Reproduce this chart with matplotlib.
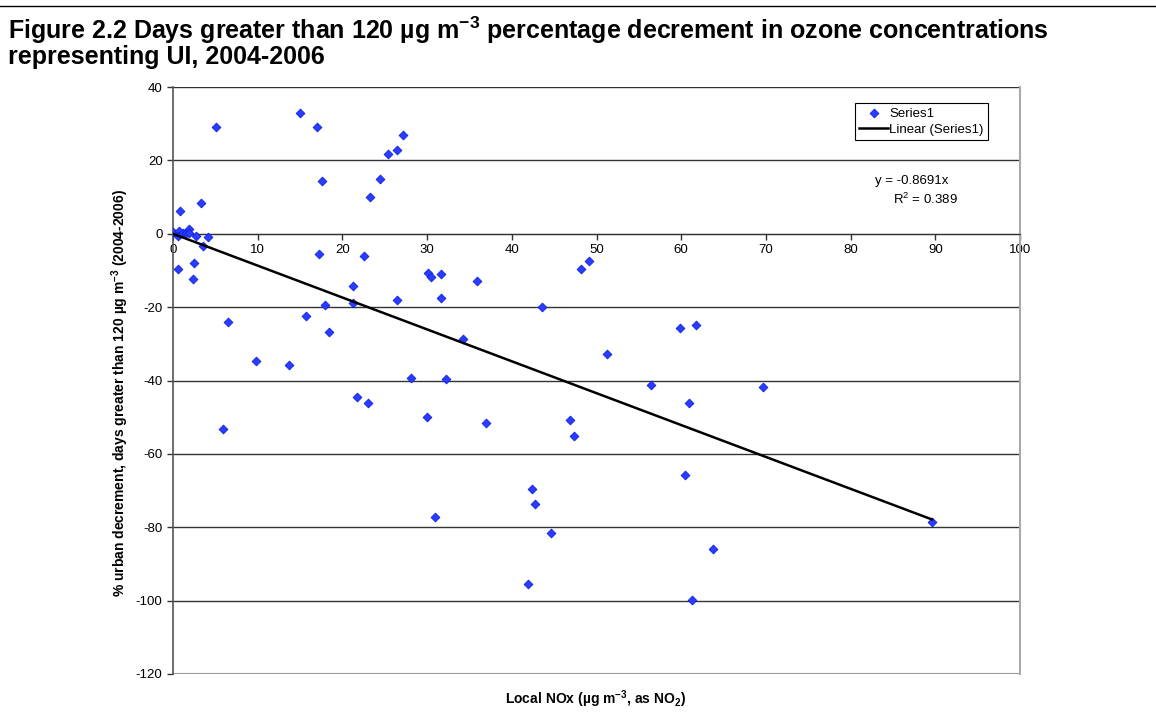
import matplotlib.pyplot as plt
from matplotlib.lines import Line2D
import numpy as np

plt.rcParams.update({
    "font.family": ["Liberation Sans", "DejaVu Sans"],
    "mathtext.default": "regular",
    "axes.unicode_minus": False,
})

# Local NOx (x) and % urban decrement (y)
nox = [5.1, 15.0, 17.0, 17.6, 27.2, 26.5, 25.4, 24.4, 23.2, 3.35, 0.86,
       0.05, 0.7, 0.6, 1.2, 1.5, 1.85, 1.9, 2.7, 4.1, 3.5,
       0.6, 2.5, 2.4, 6.5, 9.8, 13.7, 15.7, 18.0, 18.4, 17.2, 21.2, 21.3,
       22.6, 26.4, 21.7, 28.1, 5.85, 23.0,
       30.1, 30.5, 31.6, 31.6, 35.9, 48.2, 49.1, 43.6, 34.2, 51.2, 32.2,
       30.0, 36.9, 46.9, 47.3, 42.4, 42.7, 30.9, 44.6, 41.9,
       59.8, 61.8, 56.4, 69.6, 60.9, 60.4, 89.6, 63.8, 61.3]
decrement = [29.1, 33.0, 29.0, 14.3, 26.9, 22.9, 21.8, 14.9, 9.9, 8.4, 6.3,
             0.6, 0.8, -0.7, 0.1, 0.3, 1.4, 0.2, -0.5, -0.8, -3.3,
             -9.5, -8.1, -12.3, -24.1, -34.7, -35.8, -22.3, -19.5, -26.9, -5.5, -14.3, -18.9,
             -6.1, -18.0, -44.5, -39.3, -53.2, -46.2,
             -10.7, -11.9, -11.1, -17.6, -12.9, -9.7, -7.3, -20.1, -28.6, -32.8, -39.5,
             -50.0, -51.5, -50.7, -55.2, -69.6, -73.6, -77.2, -81.5, -95.5,
             -25.7, -24.9, -41.3, -41.7, -46.2, -65.8, -78.6, -86.0, -99.7]
slope = -0.8691
r2 = 0.389

fig = plt.figure(figsize=(11.56, 7.19), dpi=100)
ax = fig.add_axes([173 / 1156, 1 - 674 / 719, 847 / 1156, 587 / 719])

ax.set_xlim(0, 100)
ax.set_ylim(-120, 40)
ax.set_xticks(np.arange(0, 101, 10))
ax.set_yticks(np.arange(-120, 41, 20))

for yv in range(-100, 41, 20):
    ax.axhline(yv, color="#333333", lw=1.0, zorder=1)
ax.axhline(-120, color="#999999", lw=1.5, zorder=1)

ax.spines["bottom"].set_position(("data", 0))
ax.spines["bottom"].set_color("#333333")
ax.spines["left"].set_color("#555555")
ax.spines["left"].set_linewidth(1.2)
ax.spines["top"].set_visible(False)
ax.spines["right"].set_color("#aaaaaa")
ax.spines["right"].set_linewidth(1.5)
ax.tick_params(axis="both", direction="out", length=4, width=1,
               labelsize=9.5, colors="#333333", labelcolor="black")

ax.scatter(nox, decrement, marker="D", s=20, facecolor="#2a3cff",
           edgecolor="#1020e0", linewidth=0.6, zorder=3, label="Series1")

xs = np.array([0, max(nox)])
ax.plot(xs, slope * xs, color="black", lw=1.8, zorder=4, label="Linear (Series1)")

leg = ax.legend(loc="upper right", bbox_to_anchor=(0.962, 0.972), fontsize=9.5,
                frameon=True, fancybox=False, framealpha=1, edgecolor="black",
                borderpad=0.3, handlelength=2.2, handletextpad=0.1,
                borderaxespad=0, labelspacing=0.3)
leg.get_frame().set_linewidth(0.8)

ax.text(0.8725, 0.84, f"y = {slope}x", transform=ax.transAxes, ha="center",
        va="center", fontsize=9.5)
ax.text(0.888, 0.808, f"R$^2$ = {r2}", transform=ax.transAxes, ha="center",
        va="center", fontsize=9.5)

fig.text(120 / 1156, 1 - 393 / 719,
         "% urban decrement, days greater than 120 µg m$^{-3}$ (2004-2006)",
         rotation=90, ha="center", va="center", fontsize=10, fontweight="bold")
fig.text(596 / 1156, 1 - 699 / 719, "Local NOx (µg m$^{-3}$, as NO$_2$)",
         ha="center", va="center", fontsize=10, fontweight="bold")

fig.text(8 / 1156, 1 - 15 / 719,
         "Figure 2.2 Days greater than 120 µg m$^{-3}$ percentage decrement in ozone concentrations\n"
         "representing UI, 2004-2006",
         ha="left", va="top", fontsize=18, fontweight="bold", linespacing=0.95)
fig.add_artist(Line2D([0, 1], [1 - 6 / 719, 1 - 6 / 719], color="black", lw=1))

fig.savefig("out.png", dpi=100)
